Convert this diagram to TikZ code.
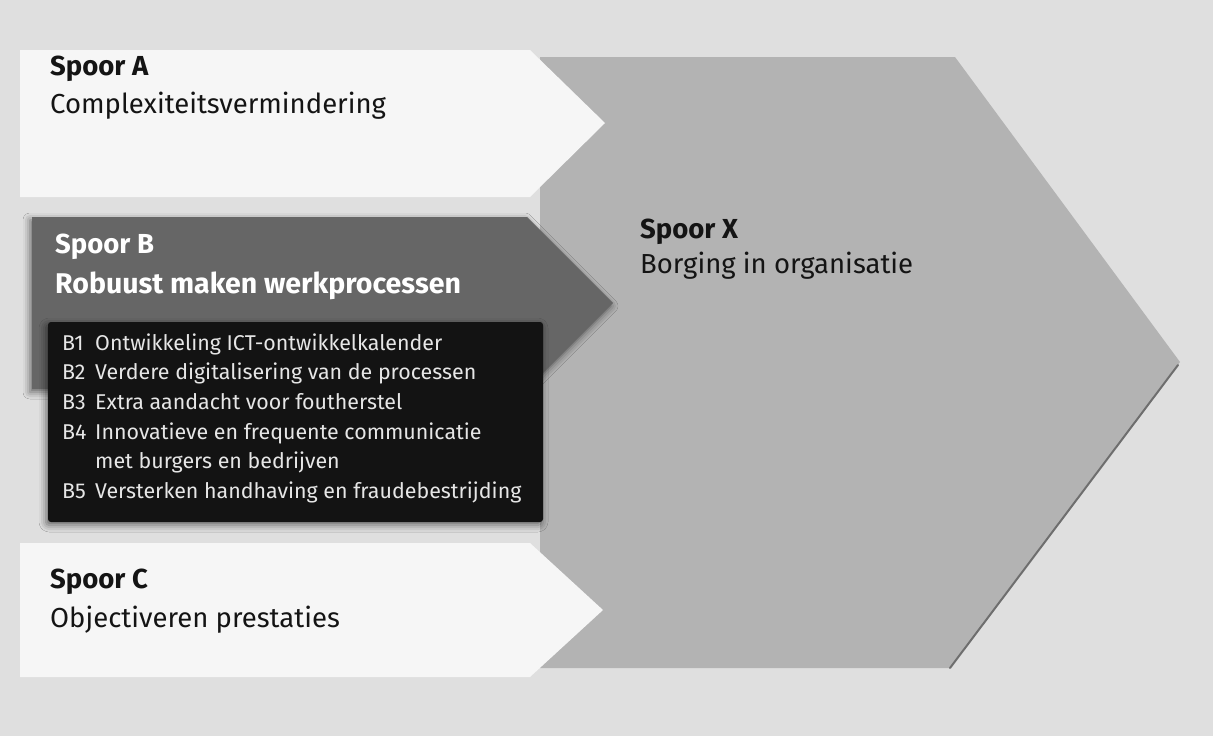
\documentclass[tikz,border=0pt]{standalone}
\usepackage{fontspec}
\setmainfont{Fira Sans}
\usetikzlibrary{shadows.blur}
\definecolor{paper}{HTML}{DFDFDF}
\definecolor{lightarrow}{HTML}{F6F6F6}
\definecolor{chevron}{HTML}{B3B3B3}
\definecolor{chevronedge}{HTML}{6E6E6E}
\definecolor{darkarrow}{HTML}{666666}
\definecolor{itembox}{HTML}{131313}
\definecolor{itemtext}{HTML}{E6E6E6}
\definecolor{headtext}{HTML}{141414}
\begin{document}
\begin{tikzpicture}[x=1pt,y=-1pt,
  head/.style={anchor=base west, inner sep=0pt, text=headtext,
    font=\fontsize{27.5}{32}\selectfont\bfseries},
  sub/.style={anchor=base west, inner sep=0pt, text=headtext,
    font=\fontsize{27.5}{32}\selectfont},
  itemlabel/.style={anchor=base west, inner sep=0pt, text=itemtext,
    font=\fontsize{21.4}{24}\selectfont},
  itemtxt/.style={itemlabel},
  softshadow/.style={blur shadow={shadow xshift=-2pt, shadow yshift=-3pt,
    shadow blur radius=7pt, shadow opacity=55}}]
% canvas
\fill[paper] (0,0) rectangle (1213,736);
\useasboundingbox (0,0) rectangle (1213,736);

% large chevron: Spoor X
\fill[chevron] (540,57) -- (955,57) -- (1180,362) -- (950,668) -- (540,668) -- cycle;
\draw[chevronedge, line width=2pt, line cap=round] (1178,365) -- (950,668);

% light arrows: Spoor A and Spoor C
\fill[lightarrow] (20,50) -- (530,50) -- (605,123) -- (530,197) -- (20,197) -- cycle;
\fill[lightarrow] (20,543) -- (530,543) -- (603,610) -- (530,677) -- (20,677) -- cycle;

% dark arrow: Spoor B
\fill[darkarrow, softshadow] (32,217) -- (527,217) -- (613,303) -- (527,389) -- (32,389) -- cycle;

% list of measures
\fill[itembox, rounded corners=3pt, softshadow] (48,322) rectangle (543,522);

% headings
\node[head] (hA) at (50,75) {Spoor A};
\node[sub] (sA) at (50,113) {Complexiteitsvermindering};
\node[head, text=white] (hB) at (55,253) {Spoor B};
\node[head, text=white, font=\fontsize{28.5}{32}\selectfont\bfseries] (sB) at (55,293) {Robuust maken werkprocessen};
\node[head] (hC) at (50,588) {Spoor C};
\node[sub] (sC) at (50,627) {Objectiveren prestaties};
\node[head] (hX) at (640,238) {Spoor X};
\node[sub] (sX) at (640,273) {Borging in organisatie};

% items
\node[itemlabel] (l1) at (62,350) {B1};
\node[itemtxt] (t1) at (95,350) {Ontwikkeling ICT-ontwikkelkalender};
\node[itemlabel] (l2) at (62,379) {B2};
\node[itemtxt] (t2) at (95,379) {Verdere digitalisering van de processen};
\node[itemlabel] (l3) at (62,409) {B3};
\node[itemtxt] (t3) at (95,409) {Extra aandacht voor foutherstel};
\node[itemlabel] (l4) at (62,439) {B4};
\node[itemtxt] (t4) at (95,439) {Innovatieve en frequente communicatie};
\node[itemtxt] (t4b) at (95,468) {met burgers en bedrijven};
\node[itemlabel] (l5) at (62,498) {B5};
\node[itemtxt] (t5) at (95,498) {Versterken handhaving en fraudebestrijding};
\end{tikzpicture}
\end{document}
